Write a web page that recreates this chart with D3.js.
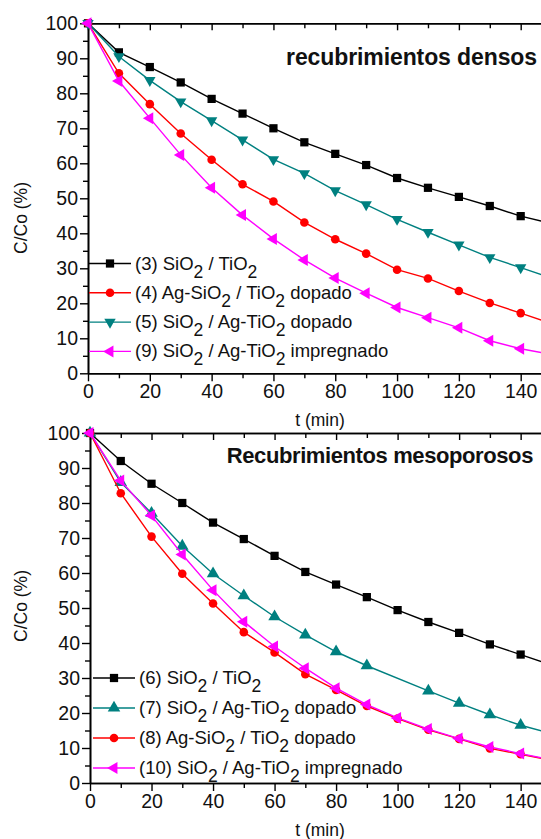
<!DOCTYPE html>
<html>
<head>
<meta charset="utf-8">
<script src="https://cdn.jsdelivr.net/npm/d3@7"></script>
<style>
  body { margin: 0; background: #fff; }
  text { font-family: "Liberation Sans", Arial, sans-serif; fill: #111; }
</style>
</head>
<body>
<div id="chart"></div>
<script>
const width = 541;
const height = 839;

// time axis (min), shared by both panels
const tValues = [0, 10, 20, 30, 40, 50, 60, 70, 80, 90, 100, 110, 120, 130, 140, 150];
const yTicks = [0, 10, 20, 30, 40, 50, 60, 70, 80, 90, 100];
const xTicks = [0, 20, 40, 60, 80, 100, 120, 140];

// recubrimientos densos
const densos3 = [100, 91.7, 87.5, 83.1, 78.4, 74.2, 70.0, 66.0, 62.7, 59.5, 55.8, 53.0, 50.4, 47.8, 44.9, 42.8];
const densos4 = [100, 85.7, 76.9, 68.5, 61.0, 54.0, 49.1, 43.1, 38.3, 34.2, 29.6, 27.1, 23.5, 20.1, 17.2, 14.2];
const densos5 = [100, 90.5, 83.7, 77.6, 72.2, 66.7, 61.1, 57.1, 52.2, 48.2, 44.0, 40.3, 36.7, 33.1, 30.2, 27.2];
const densos9 = [100, 83.5, 72.9, 62.4, 53.0, 45.2, 38.4, 32.4, 27.2, 22.9, 18.8, 15.9, 13.0, 9.3, 7.0, 5.4];

// recubrimientos mesoporosos (no point at t = 100 for serie 7)
const meso6 = [100, 92.0, 85.5, 80.0, 74.4, 69.7, 64.9, 60.3, 56.7, 53.1, 49.4, 46.0, 42.9, 39.6, 36.7, 33.7];
const meso7 = [100, 85.9, 77.1, 67.7, 59.8, 53.5, 47.5, 42.3, 37.5, 33.5, null, 26.3, 22.8, 19.5, 16.5, 14.1];
const meso8 = [100, 82.8, 70.4, 59.8, 51.3, 43.1, 37.3, 31.1, 26.6, 22.0, 18.4, 15.2, 12.6, 9.9, 8.2, 6.5];
const meso10 = [100, 86.4, 76.4, 65.3, 55.1, 46.1, 39.0, 32.8, 27.1, 22.4, 18.6, 15.4, 12.7, 10.3, 8.4, 6.6];

const topSeries = [
    { label: "(3) SiO_2 / TiO_2", values: densos3, color: "#000000", symbol: "square" },
    { label: "(4) Ag-SiO_2 / TiO_2 dopado", values: densos4, color: "#ff0000", symbol: "circle" },
    { label: "(5) SiO_2 / Ag-TiO_2 dopado", values: densos5, color: "#008080", symbol: "down" },
    { label: "(9) SiO_2 / Ag-TiO_2 impregnado", values: densos9, color: "#ff00ff", symbol: "left" }
];
const bottomSeries = [
    { label: "(6) SiO_2 / TiO_2", values: meso6, color: "#000000", symbol: "square" },
    { label: "(7) SiO_2 / Ag-TiO_2 dopado", values: meso7, color: "#008080", symbol: "up" },
    { label: "(8) Ag-SiO_2 / TiO_2 dopado", values: meso8, color: "#ff0000", symbol: "circle" },
    { label: "(10) SiO_2 / Ag-TiO_2 impregnado", values: meso10, color: "#ff00ff", symbol: "left" }
];

const svg = d3.select("#chart")
    .append("svg")
    .attr("width", width)
    .attr("height", height);

svg.append("rect").attr("width", width).attr("height", height).attr("fill", "#fff");

function symbolPath(name) {
    if (name === "square") return { d: d3.symbol(d3.symbolSquare, 68)(), rot: 0 };
    if (name === "circle") return { d: d3.symbol(d3.symbolCircle, 58)(), rot: 0 };
    if (name === "up") return { d: d3.symbol(d3.symbolTriangle, 68)(), rot: 0 };
    if (name === "down") return { d: d3.symbol(d3.symbolTriangle, 56)(), rot: 180 };
    return { d: d3.symbol(d3.symbolTriangle, 62)(), rot: -90 };
}

function addLabel(sel, label, size) {
    const parts = label.split("_2");
    parts.forEach((p, i) => {
        sel.append("tspan").text(p).attr("dy", i === 0 ? 0 : -8);
        if (i < parts.length - 1) {
            sel.append("tspan").text("2").attr("font-size", size - 1).attr("dy", 8);
        }
    });
}

function panel(cfg) {
    const x = d3.scaleLinear().domain([0, 150]).range([cfg.left, cfg.right]);
    const y = d3.scaleLinear().domain([0, 100]).range([cfg.bottom, cfg.top]);
    const g = svg.append("g");

    // left axis
    g.append("g")
        .attr("transform", "translate(" + cfg.left + ",0)")
        .call(d3.axisLeft(y).tickValues(yTicks).tickSize(8).tickSizeOuter(0).tickPadding(2));
    g.append("g")
        .attr("transform", "translate(" + cfg.left + ",0)")
        .call(d3.axisLeft(y).tickValues(d3.range(5, 100, 10)).tickSize(5).tickSizeOuter(0).tickFormat(""));

    // bottom axis
    g.append("g")
        .attr("transform", "translate(0," + cfg.bottom + ")")
        .call(d3.axisBottom(x).tickValues(xTicks).tickSize(8).tickSizeOuter(0).tickPadding(3));
    g.append("g")
        .attr("transform", "translate(0," + cfg.bottom + ")")
        .call(d3.axisBottom(x).tickValues(d3.range(10, 151, 20)).tickSize(5).tickSizeOuter(0).tickFormat(""));

    // top frame, ticks pointing inside
    g.append("g")
        .attr("transform", "translate(0," + cfg.top + ")")
        .call(d3.axisBottom(x).tickValues(xTicks).tickSize(7).tickSizeOuter(0).tickFormat(""));
    g.append("g")
        .attr("transform", "translate(0," + cfg.top + ")")
        .call(d3.axisBottom(x).tickValues(d3.range(10, 151, 20)).tickSize(5).tickSizeOuter(0).tickFormat(""));

    g.selectAll(".domain").attr("stroke", "#000").attr("stroke-width", 1.6);
    g.selectAll(".tick line").attr("stroke", "#000").attr("stroke-width", 1.4);
    g.selectAll(".tick text")
        .style("font-family", "'Liberation Sans', Arial, sans-serif")
        .style("font-size", "19.5px")
        .attr("fill", "#111");

    // axis titles
    g.append("text")
        .attr("transform", "translate(" + 27 + "," + cfg.yLabelY + ") rotate(-90)")
        .attr("text-anchor", "middle")
        .style("font-size", "17.5px")
        .text("C/Co (%)");
    g.append("text")
        .attr("x", 320)
        .attr("y", cfg.bottom + 53)
        .attr("text-anchor", "middle")
        .style("font-size", "17.5px")
        .text("t (min)");

    // title
    g.append("text")
        .attr("x", cfg.titleX)
        .attr("y", cfg.titleY)
        .attr("text-anchor", "end")
        .style("font-size", cfg.titleSize + "px")
        .style("font-weight", "bold")
        .style("letter-spacing", cfg.titleSpacing + "px")
        .text(cfg.title);

    const line = d3.line()
        .x(d => x(d.t))
        .y(d => y(d.v));

    cfg.series.forEach(s => {
        const pts = tValues.map((t, i) => ({ t: t, v: s.values[i] })).filter(d => d.v != null);
        g.append("path")
            .datum(pts)
            .attr("fill", "none")
            .attr("stroke", s.color)
            .attr("stroke-width", 1.4)
            .attr("d", line);
        const sym = symbolPath(s.symbol);
        g.selectAll()
            .data(pts)
            .enter()
            .append("path")
            .attr("d", sym.d)
            .attr("transform", d => "translate(" + x(d.t) + "," + y(d.v) + ") rotate(" + sym.rot + ")")
            .attr("fill", s.color);
    });

    // legend
    const leg = g.append("g");
    cfg.series.forEach((s, i) => {
        const cy = cfg.legY + i * cfg.legStep;
        leg.append("line")
            .attr("x1", cfg.legX).attr("x2", cfg.legX + 42)
            .attr("y1", cy).attr("y2", cy)
            .attr("stroke", s.color).attr("stroke-width", 1.4);
        const sym = symbolPath(s.symbol);
        leg.append("path")
            .attr("d", sym.d)
            .attr("transform", "translate(" + (cfg.legX + 21) + "," + cy + ") rotate(" + sym.rot + ")")
            .attr("fill", s.color);
        const t = leg.append("text")
            .attr("x", cfg.legX + 46)
            .attr("y", cy + 6)
            .style("font-size", "18.5px");
        addLabel(t, s.label, 18.5);
    });
}

panel({
    left: 88, right: 551.6, top: 23.3, bottom: 373.3, yLabelY: 218,
    title: "recubrimientos densos", titleX: 537, titleY: 65, titleSize: 23, titleSpacing: -0.1,
    series: topSeries, legX: 89, legY: 263.5, legStep: 29.3
});

panel({
    left: 90, right: 551.4, top: 433, bottom: 783, yLabelY: 606,
    title: "Recubrimientos mesoporosos", titleX: 533, titleY: 463, titleSize: 22, titleSpacing: -0.4,
    series: bottomSeries, legX: 93, legY: 678, legStep: 30
});
</script>
</body>
</html>
